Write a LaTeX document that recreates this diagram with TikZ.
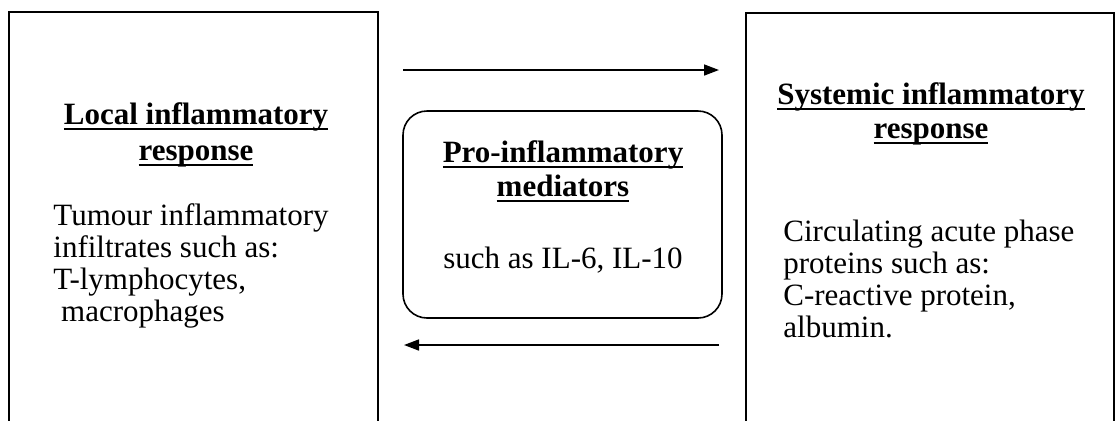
\documentclass[tikz,border=0pt]{standalone}
\usepackage{fontspec}
\setmainfont{Liberation Serif}
\usetikzlibrary{arrows.meta}
\newcommand\hdul[1]{\setbox0\hbox{#1}\leavevmode\rlap{\rule[-2.6pt]{\wd0}{0.9pt}}\box0}
\begin{document}
\begin{tikzpicture}[x=0.5pt,y=-0.5pt,
  bigbox/.style={draw, line width=1pt, inner sep=0pt},
  medbox/.style={draw, line width=0.8pt, rounded corners=12pt, inner sep=0pt,
    minimum width=159.5pt, minimum height=103.5pt},
  headtxt/.style={font=\bfseries\fontsize{15.5}{17}\selectfont, align=center, inner sep=0pt},
  bodytxt/.style={font=\fontsize{15.5}{16.1}\selectfont, align=left, inner sep=0pt},
  arr/.style={line width=0.8pt, -{Triangle[length=7.5pt,width=5.5pt]}}]
\useasboundingbox (0,0) rectangle (1120,420);
\clip (0,0) rectangle (1120,420);
% boxes
\node[bigbox, minimum width=184.5pt, minimum height=209pt] (local) at (193.5,221) {};
\node[bigbox, minimum width=184pt, minimum height=208.5pt] (sys) at (930,221.5) {};
\node[medbox] (med) at (562.5,214.5) {};
% texts
\node[headtxt] (lochead) at (196,135) {\hdul{Local inflammatory}\\[1pt]\hdul{response}};
\node[bodytxt, anchor=west] (locbody) at (53,266) {Tumour inflammatory\\ infiltrates such as:\\ T-lymphocytes,\\ \hspace*{0.25em}macrophages};
\node[headtxt] (syshead) at (931,114) {\hdul{Systemic inflammatory}\\\hdul{response}};
\node[bodytxt, anchor=west] (sysbody) at (783,279) {Circulating acute phase\\ proteins such as:\\ C-reactive protein,\\ albumin.};
\node[headtxt] (medhead) at (563,171) {\hdul{Pro-inflammatory}\\\hdul{mediators}};
\node[bodytxt, align=center] (medbody) at (563,260) {such as IL-6, IL-10};
% arrows
\coordinate (topy) at (0,70);
\coordinate (boty) at (0,345);
\draw[arr, shorten <=12pt, shorten >=13pt] (local.east |- topy) -- (sys.west |- topy);
\draw[arr, shorten <=13pt, shorten >=12.5pt] (sys.west |- boty) -- (local.east |- boty);
\end{tikzpicture}
\end{document}
